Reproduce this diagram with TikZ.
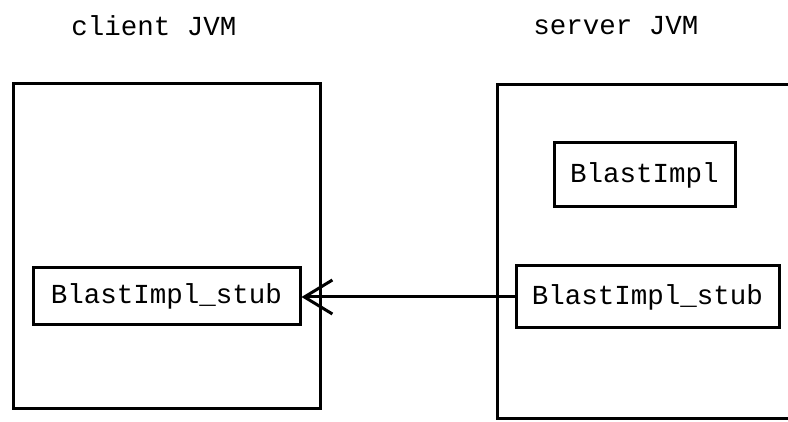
\documentclass[tikz,border=0pt]{standalone}
\usepackage{fontspec}
\setmonofont{Liberation Mono}
\usetikzlibrary{arrows.meta}
\begin{document}
\begin{tikzpicture}[x=1pt,y=-1pt,
  every node/.style={font=\ttfamily\fontsize{27.5}{32}\selectfont},
  frame/.style={draw,line width=3pt,inner sep=0pt},
  obj/.style={draw,line width=3pt,inner sep=0pt},
  title/.style={inner sep=0pt}]
\useasboundingbox (0,0) rectangle (788,422);
\clip (0,0) rectangle (788,422);
\fill[white] (0,0) rectangle (788,422);
% the two virtual machines
\node[frame,minimum width=307pt,minimum height=324pt] (cjvm) at (166.5,246) {};
\node[frame,minimum width=308pt,minimum height=333pt] (sjvm) at (651,251.5) {};
\node[title] (ctitle) at (154,26) {client JVM};
\node[title] (stitle) at (616,26) {server JVM};
% objects inside them
\node[obj,minimum width=267pt,minimum height=57pt] (lstub) at (166.5,296.5) {BlastImpl\_stub};
\node[obj,minimum width=181pt,minimum height=64pt] (impl) at (644.5,175) {BlastImpl};
\node[obj,minimum width=263pt,minimum height=62pt] (rstub) at (647.5,297) {BlastImpl\_stub};
% stub handed over to the client
\draw[line width=3pt,-{Straight Barb[length=28pt,width=34pt,line width=3pt]}]
  (rstub.west) -- (rstub.west -| lstub.east);
\end{tikzpicture}
\end{document}
